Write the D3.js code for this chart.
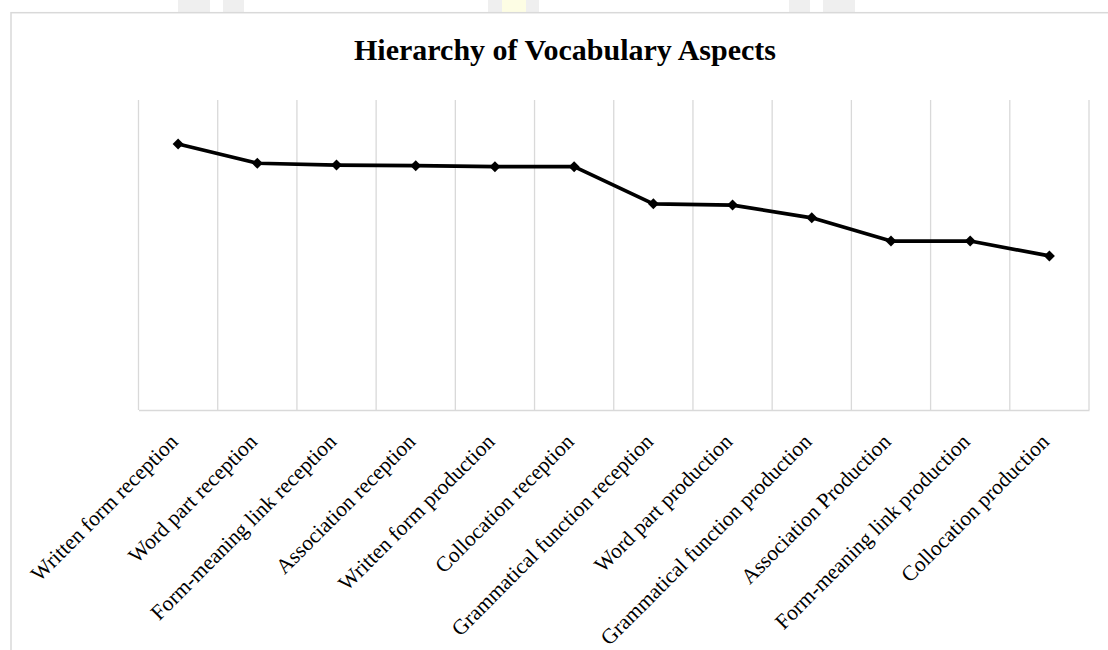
<!DOCTYPE html>
<html>
<head>
<meta charset="utf-8">
<script src="https://cdn.jsdelivr.net/npm/d3@7"></script>
<style>
  body { margin: 0; background: #fff; }
  svg { display: block; }
</style>
</head>
<body>
<svg id="chart" width="1108" height="650"></svg>
<script>
var aspects = [
  "Written form reception",
  "Word part reception",
  "Form-meaning link reception",
  "Association reception",
  "Written form production",
  "Collocation reception",
  "Grammatical function reception",
  "Word part production",
  "Grammatical function production",
  "Association Production",
  "Form-meaning link production",
  "Collocation production"
];
var scores = [85.8, 79.6, 79.0, 78.8, 78.5, 78.5, 66.5, 66.1, 62.0, 54.5, 54.5, 49.7];

var margin = { top: 100, left: 138.5, right: 19, bottom: 240 };
var width = 1108 - margin.left - margin.right;
var height = 650 - margin.top - margin.bottom;

var svg = d3.select("#chart");

// faint blocks bleeding in from the page above the chart
var strips = [[178, 32, "#efefef"], [223, 21, "#efefef"], [488, 14, "#efefef"],
  [502, 24, "#fdfde4"], [526, 13, "#efefef"], [789, 21, "#efefef"], [823, 32, "#efefef"]];
svg.selectAll(".strip").data(strips).enter().append("rect")
  .attr("x", (d) => d[0]).attr("y", 0)
  .attr("width", (d) => d[1]).attr("height", 12)
  .attr("fill", (d) => d[2]);

// chart area border (runs off the right / bottom edge)
svg.append("rect")
  .attr("x", 11).attr("y", 12.7)
  .attr("width", 1120).attr("height", 700)
  .attr("fill", "none")
  .attr("stroke", "#d9d9d9")
  .attr("stroke-width", 1.5);

svg.append("text")
  .attr("x", 565)
  .attr("y", 60)
  .attr("text-anchor", "middle")
  .style("font-family", "'Liberation Serif', 'Times New Roman', serif")
  .style("font-weight", "bold")
  .style("font-size", "30px")
  .text("Hierarchy of Vocabulary Aspects");

var g = svg.append("g").attr("transform", "translate(" + margin.left + "," + margin.top + ")");

var x = d3.scaleBand().domain(aspects).range([0, width]);
var y = d3.scaleLinear().domain([0, 100]).range([height, 0]);

// vertical gridlines on category boundaries
var bounds = aspects.map((d) => x(d)).concat([width]);
g.selectAll(".grid").data(bounds).enter().append("line")
  .attr("x1", (d) => d).attr("x2", (d) => d)
  .attr("y1", 0).attr("y2", height)
  .attr("stroke", "#d9d9d9")
  .attr("stroke-width", 1.3);

var xAxis = g.append("g")
  .attr("transform", "translate(0," + height + ")")
  .call(d3.axisBottom(x).tickSize(0).tickPadding(0));
xAxis.select(".domain").attr("stroke", "#d9d9d9").attr("stroke-width", 1.5);
xAxis.selectAll(".tick text")
  .attr("text-anchor", "end")
  .attr("dy", 0)
  .attr("transform", "translate(1,33) rotate(-45)")
  .attr("fill", "#000")
  .style("font-family", "'Liberation Serif', 'Times New Roman', serif")
  .style("font-size", "21.5px");

var line = d3.line()
  .x((d, i) => x(aspects[i]) + x.bandwidth() / 2)
  .y((d) => y(d));

g.append("path")
  .datum(scores)
  .attr("fill", "none")
  .attr("stroke", "#000")
  .attr("stroke-width", 3.7)
  .attr("stroke-linejoin", "round")
  .attr("d", line);

g.selectAll(".marker").data(scores).enter().append("path")
  .attr("d", d3.symbol(d3.symbolSquare, 60))
  .attr("transform", (d, i) => "translate(" + (x(aspects[i]) + x.bandwidth() / 2) + "," + y(d) + ") rotate(45)")
  .attr("fill", "#000");
</script>
</body>
</html>
